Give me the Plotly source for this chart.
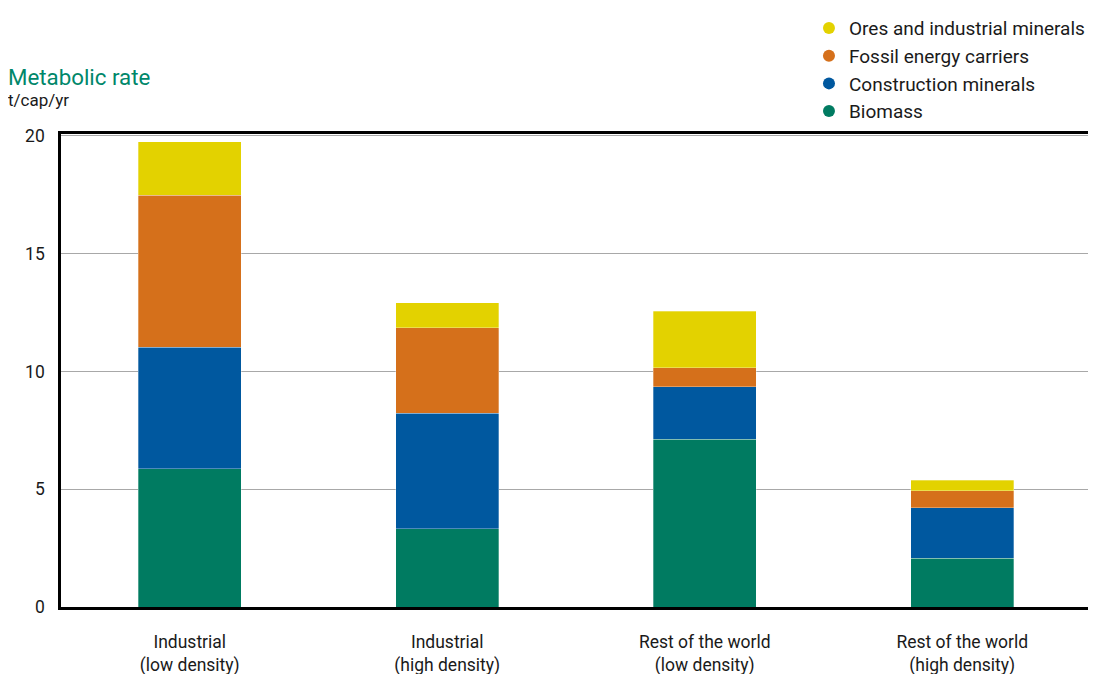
import plotly.graph_objects as go

categories = ["Industrial<br>(low density)", "Industrial<br>(high density)",
              "Rest of the world<br>(low density)", "Rest of the world<br>(high density)"]
series_names = ["Biomass", "Construction minerals", "Fossil energy carriers", "Ores and industrial minerals"]
biomass = [5.87, 3.33, 7.13, 2.07]
construction = [5.15, 4.90, 2.22, 2.15]
fossil = [6.45, 3.63, 0.80, 0.72]
ores = [2.29, 1.05, 2.40, 0.45]
y_ticks = [0, 5, 10, 15, 20]

colors = ["#007B61", "#00589F", "#D5701B", "#E3D200"]
values = [biomass, construction, fossil, ores]

FONT = "Roboto, sans-serif"

fig = go.Figure()
for name, vals, col in zip(series_names, values, colors):
    fig.add_trace(go.Bar(x=categories, y=vals, name=name, marker_color=col,
                         marker_line=dict(color="rgba(255,255,255,0.5)", width=0.6),
                         width=0.4, showlegend=False))
for name, col in zip(series_names, colors):
    fig.add_trace(go.Scatter(x=[None], y=[None], mode="markers", name=name,
                             marker=dict(color=col, size=15, symbol="circle")))

fig.update_layout(
    width=1088, height=666,
    barmode="stack",
    plot_bgcolor="white", paper_bgcolor="white",
    margin=dict(l=53, r=5, t=126, b=67, autoexpand=False),
    font=dict(family=FONT, size=18, color="#1a1a1a"),
    legend=dict(x=0.999, xanchor="right", y=1.264, yanchor="top", itemwidth=30,
                traceorder="reversed", font=dict(size=19, color="#1a1a1a"),
                itemsizing="constant", tracegroupgap=0, bgcolor="rgba(0,0,0,0)"),
    xaxis=dict(showline=True, linecolor="black", linewidth=2.5, mirror=True,
               ticks="", ticklabelstandoff=17, tickfont=dict(size=17.5),
               automargin=False),
    yaxis=dict(range=[0, 20.08], tickvals=y_ticks, showline=True, linecolor="black",
               linewidth=2.5, mirror=True, showgrid=True, gridcolor="#a8a8a8",
               gridwidth=1.2, ticks="", ticklabelstandoff=10, zeroline=False,
               tickfont=dict(size=17.5), automargin=False),
    annotations=[
        dict(text="Metabolic rate", xref="paper", yref="paper", x=-0.053, y=1.12,
             xanchor="left", yanchor="middle", showarrow=False,
             font=dict(size=22.3, color="#00876A", family=FONT)),
        dict(text="t/cap/yr", xref="paper", yref="paper", x=-0.053, y=1.0717,
             xanchor="left", yanchor="middle", showarrow=False,
             font=dict(size=17, color="#1a1a1a", family=FONT)),
    ],
)
fig.write_html("out.html")
